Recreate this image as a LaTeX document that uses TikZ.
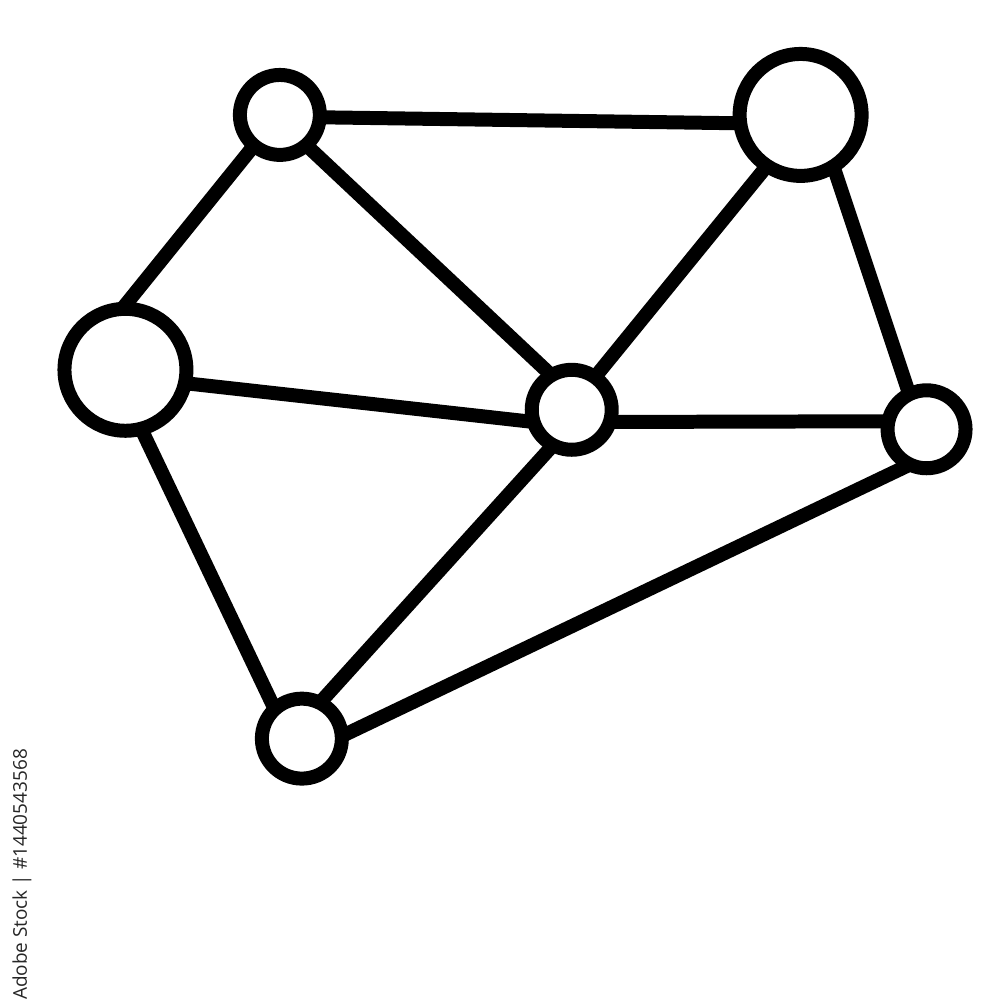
\documentclass[tikz,border=0pt]{standalone}
\usepackage{fontspec}
\newfontfamily\idfont{Open Sans}
\usetikzlibrary{backgrounds}
\begin{document}
\begin{tikzpicture}[
  netnode/.style={circle, draw=black, fill=white, line width=0.14cm, inner sep=0pt},
  small/.style={netnode, minimum size=0.80cm},
  big/.style={netnode, minimum size=1.22cm},
  link/.style={draw=black, line width=0.14cm, shorten <=-0.12cm, shorten >=-0.12cm}
]
\node[small] (A) at (2.80,8.85) {};
\node[big]   (B) at (8.01,8.85) {};
\node[big]   (C) at (1.255,6.30) {};
\node[small] (D) at (5.72,5.90) {};
\node[small, minimum size=0.78cm] (E) at (9.27,5.705) {};
\node[small] (F) at (3.02,2.61) {};
\begin{scope}[on background layer]
\fill[white] (0,0) rectangle (10,10);
\draw[link] (A.-3) -- (B.187);
\draw[link] (A.230) -- (C.88);
\draw[link] (A.-48) -- (D.123);
\draw[link] (C.-12) -- (D.194);
\draw[link] (C.-74) -- (F.130);
\draw[link] (D.54) -- (B.236);
\draw[link] (D.-15) -- (E.170);
\draw[link] (D.240) -- (F.61);
\draw[link] (B.-59) -- (E.115);
\draw[link] (E.238) -- (F.7);
\end{scope}
\node[rotate=90, inner sep=0pt, text=black!85, font=\idfont\fontsize{5.4pt}{6pt}\selectfont] (id) at (0.22,1.25) {Adobe Stock | \#1440543568};
\useasboundingbox (0,0) rectangle (10,10);
\end{tikzpicture}
\end{document}
